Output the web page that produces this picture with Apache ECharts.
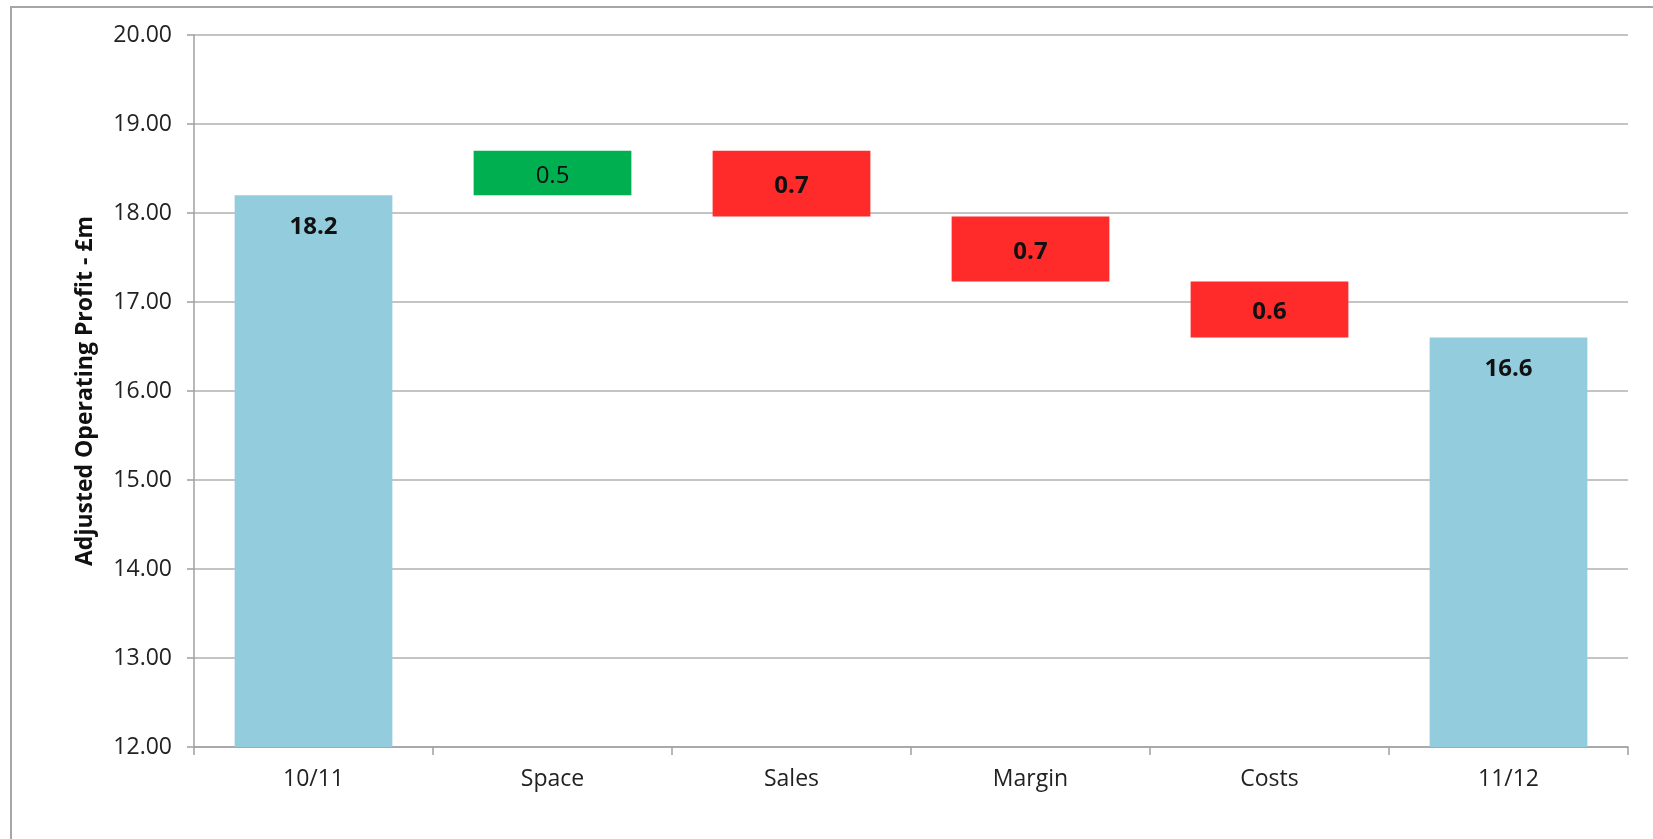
<!DOCTYPE html>
<html>
<head>
<meta charset="utf-8">
<script src="https://cdn.jsdelivr.net/npm/echarts@6/dist/echarts.min.js"></script>
<style>
  html, body { margin: 0; padding: 0; background: #fff; }
  #frame { position: absolute; left: 10px; top: 6px; width: 1700px; height: 900px;
           border-left: 2px solid #a6a6a6; border-top: 2px solid #a6a6a6; }
  #chart { position: absolute; left: 0; top: 0; width: 1653px; height: 839px; }
</style>
</head>
<body>
<div id="frame"></div>
<div id="chart"></div>
<script>
const categories = ['10/11', 'Space', 'Sales', 'Margin', 'Costs', '11/12'];
const barLow  = [0,    18.2, 17.96, 17.23, 16.6,  0];
const barHigh = [18.2, 18.7, 18.7,  17.96, 17.23, 16.6];
const barLabels = ['18.2', '0.5', '0.7', '0.7', '0.6', '16.6'];
const barColors = ['#93CDDD', '#00B050', '#FF2A2A', '#FF2A2A', '#FF2A2A', '#93CDDD'];
const yTicks = { min: 12, max: 20, interval: 1 };

const isTotal = (i) => i === 0 || i === categories.length - 1;
const deltas = barHigh.map((h, i) => +(h - barLow[i]).toFixed(2));

const chart = echarts.init(document.getElementById('chart'));
chart.setOption({
  animation: false,
  grid: { left: 194, right: 25, top: 35, bottom: 92 },
  xAxis: {
    type: 'category',
    data: categories,
    axisLine: { lineStyle: { color: '#a0a0a0', width: 1.5 } },
    axisTick: { show: true, length: 8, lineStyle: { color: '#a0a0a0', width: 1.5 } },
    axisLabel: { fontFamily: 'Open Sans', fontSize: 23, color: '#222', margin: 21 }
  },
  yAxis: {
    type: 'value',
    min: yTicks.min, max: yTicks.max, interval: yTicks.interval,
    name: 'Adjusted Operating Profit - £m',
    nameLocation: 'middle',
    nameGap: 97,
    nameTextStyle: { fontFamily: 'Open Sans', fontWeight: 'bold', fontSize: 23, color: '#111' },
    axisLine: { show: true, lineStyle: { color: '#a0a0a0', width: 1.5 } },
    axisTick: { show: true, length: 7, lineStyle: { color: '#a0a0a0', width: 1.5 } },
    splitLine: { lineStyle: { color: '#b0b0b0', width: 1.5 } },
    axisLabel: { fontFamily: 'Open Sans', fontSize: 23, color: '#222', margin: 22,
                 formatter: (v) => v.toFixed(2) }
  },
  series: [
    {
      type: 'bar', stack: 'wf', silent: true,
      barCategoryGap: '34%',
      itemStyle: { color: 'transparent' },
      data: barLow
    },
    {
      type: 'bar', stack: 'wf',
      barCategoryGap: '34%',
      data: deltas.map((d, i) => ({
        value: d,
        itemStyle: { color: barColors[i] },
        label: {
          show: true,
          formatter: barLabels[i],
          position: isTotal(i) ? 'insideTop' : 'inside',
          distance: 20,
          offset: isTotal(i) ? [0, 0] : [0, 3],
          fontFamily: 'Open Sans',
          fontSize: 24,
          fontWeight: i === 1 ? 'normal' : 'bold',
          color: '#111'
        }
      }))
    }
  ]
});
</script>
</body>
</html>
